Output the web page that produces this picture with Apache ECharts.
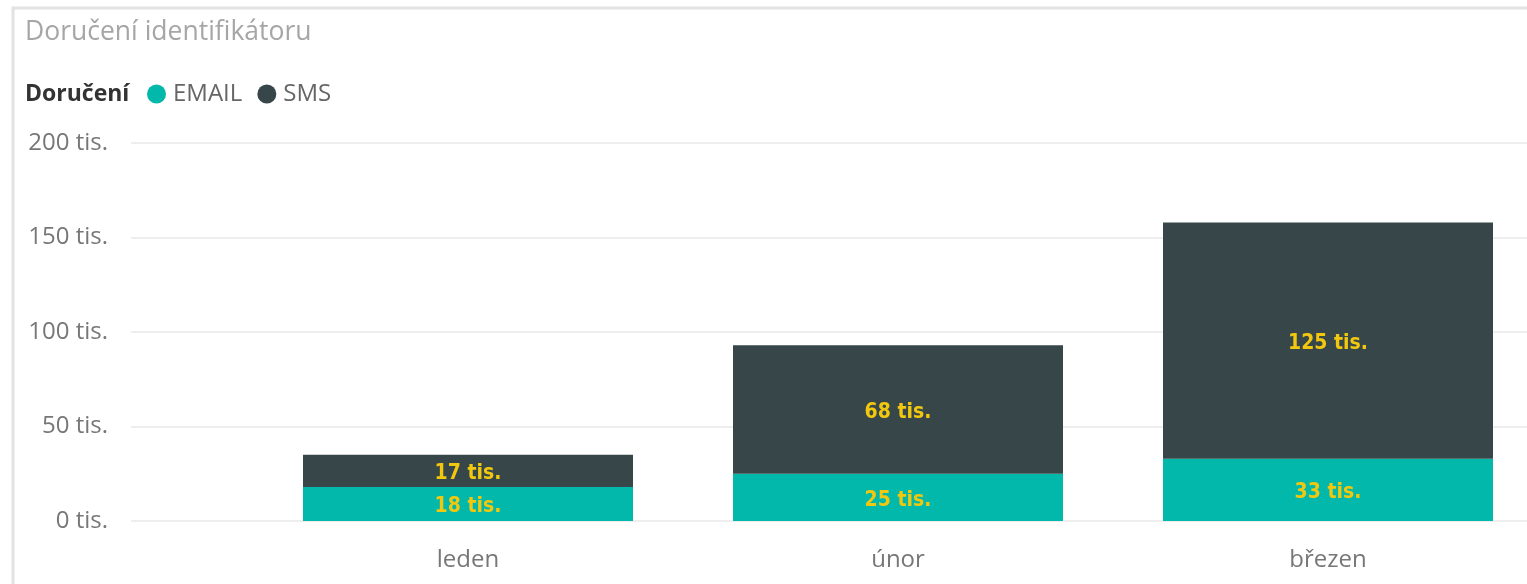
<!DOCTYPE html>
<html>
<head>
<meta charset="utf-8">
<script src="https://cdn.jsdelivr.net/npm/echarts@6/dist/echarts.min.js"></script>
<style>
html,body{margin:0;padding:0;background:#fff;overflow:hidden;}
#chart{width:1543px;height:584px;}
</style>
</head>
<body>
<div id="chart"></div>
<script>
const categories = ['leden', 'únor', 'březen'];
const emailValues = [18, 25, 33];
const smsValues = [17, 68, 125];
const yTicks = [0, 50, 100, 150, 200];
const titleText = 'Doručení identifikátoru';
const legendTitle = 'Doručení';
const seriesNames = ['EMAIL', 'SMS'];

const chart = echarts.init(document.getElementById('chart'), null, {renderer: 'canvas'});
const uiFont = '"Open Sans", "Noto Sans", sans-serif';
const labelFont = '"DejaVu Sans Condensed", "Liberation Sans Narrow", sans-serif';
const fmt = v => v + ' tis.';

const barLabel = {
  show: true,
  position: 'inside',
  offset: [0, 3],
  color: '#F2C80F',
  fontFamily: labelFont,
  fontWeight: 'bold',
  fontSize: 21,
  formatter: p => fmt(p.value)
};

chart.setOption({
  animation: false,
  backgroundColor: '#fff',
  title: [
    {text: titleText, left: 25, top: 18, padding: 0, textStyle: {color: '#a6a6a6', fontFamily: uiFont, fontWeight: 'normal', fontSize: 26.5, lineHeight: 28}},
    {text: legendTitle, left: 25, top: 81, padding: 0, textStyle: {color: '#333333', fontFamily: uiFont, fontWeight: 'bold', fontSize: 23, lineHeight: 26}}
  ],
  legend: {
    left: 147, top: 82, padding: 0,
    icon: 'circle',
    itemWidth: 19, itemHeight: 19, itemGap: 15,
    textStyle: {color: '#666666', fontFamily: uiFont, fontSize: 24, padding: [0, 0, 0, 2]},
    data: seriesNames
  },
  graphic: [{
    type: 'rect', silent: true, z: -1,
    shape: {x: 13, y: 8, width: 1600, height: 700},
    style: {fill: 'none', stroke: '#e2e2e2', lineWidth: 3}
  }],
  grid: [
    {left: 253, top: 143, right: 0, bottom: 63},
    {left: 131, top: 143, right: 16, bottom: 63}
  ],
  xAxis: [
    {type: 'category', gridIndex: 0, data: categories,
     axisLine: {show: false}, axisTick: {show: false},
     axisLabel: {color: '#777777', fontFamily: uiFont, fontSize: 24, margin: 27}},
    {type: 'value', gridIndex: 1, show: false, min: 0, max: 1}
  ],
  yAxis: [
    {type: 'value', gridIndex: 0, min: 0, max: 200, interval: 50, show: false, splitLine: {show: false}},
    {type: 'value', gridIndex: 1, min: yTicks[0], max: yTicks[yTicks.length - 1], interval: 50,
     axisLine: {show: false}, axisTick: {show: false},
     axisLabel: {color: '#777777', fontFamily: uiFont, fontSize: 24, margin: 23, formatter: v => fmt(v)},
     splitLine: {lineStyle: {color: '#e8e8e8', width: 1.5}}}
  ],
  series: [
    {name: seriesNames[0], type: 'bar', stack: 'total', xAxisIndex: 0, yAxisIndex: 0,
     barWidth: 330, itemStyle: {color: '#01B8AA'}, label: barLabel, data: emailValues},
    {name: seriesNames[1], type: 'bar', stack: 'total', xAxisIndex: 0, yAxisIndex: 0,
     barWidth: 330, itemStyle: {color: '#374649'}, label: barLabel, data: smsValues}
  ]
});
</script>
</body>
</html>
